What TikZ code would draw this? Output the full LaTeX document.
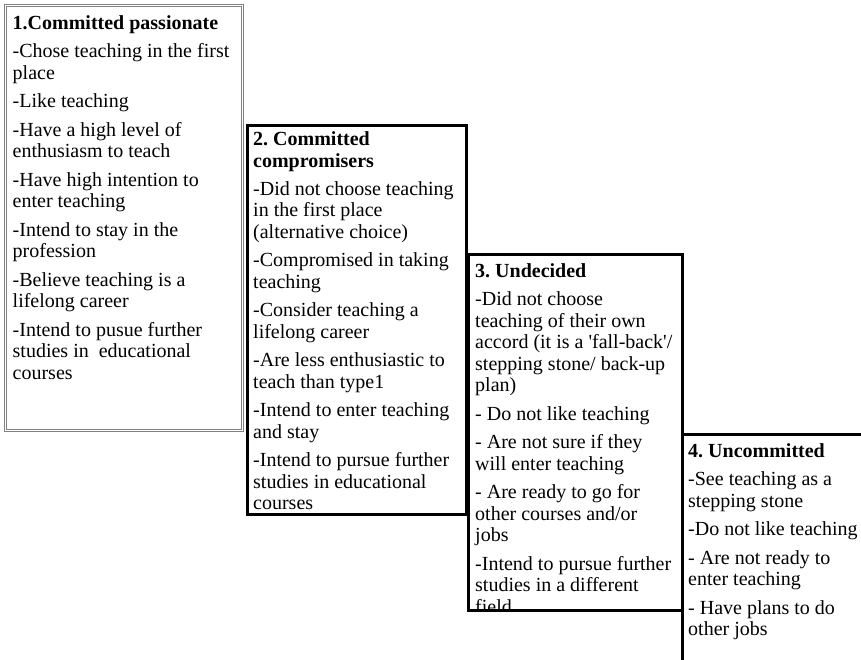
\documentclass[tikz,border=0pt]{standalone}
\usepackage{fontspec}
\setmainfont{Liberation Serif}
\usetikzlibrary{positioning}
\frenchspacing

\begin{document}
\begin{tikzpicture}[x=1pt, y=-1pt,
	panel/.style={rectangle, anchor=north west, inner sep=0pt},
	graypanel/.style={panel, draw=gray, double, double distance=1.4pt, line width=0.9pt},
	blackpanel/.style={panel, draw=black, line width=2.7pt},
	items/.style={anchor=north west, inner sep=0pt, align=left, font=\fontsize{20}{21.5}\selectfont}]
	\clip (0,0) rectangle (861,660);

	% the four types, as steps
	\node[graypanel, minimum width=237pt, minimum height=425pt] (box1) at (5,5) {};
	\node[blackpanel, minimum width=219pt, minimum height=389pt] (box2) at (246,124) {};
	\node[blackpanel, minimum width=214pt, minimum height=356pt] (box3) at (467,253) {};
	\node[blackpanel, minimum width=200pt, minimum height=240pt] (box4) at (681,433) {};

	\node[items, below right=10.5pt and 7.5pt of box1.north west] (type1) {\textbf{1.Committed passionate}\\[6.5pt]
		-Chose teaching in the first\\ place\\[7pt]
		-Like teaching\\[7pt]
		-Have a high level of\\ enthusiasm to teach\\[7pt]
		-Have high intention to\\ enter teaching\\[7pt]
		-Intend to stay in the\\ profession\\[7pt]
		-Believe teaching is a\\ lifelong career\\[7pt]
		-Intend to pusue further\\ studies in~ educational\\ courses};

	\node[items, below right=7.5pt and 7pt of box2.north west] (type2) {\textbf{2. Committed}\\ \textbf{compromisers}\\[6.5pt]
		-Did not choose teaching\\ in the first place\\ (alternative choice)\\[7pt]
		-Compromised in taking\\ teaching\\[7pt]
		-Consider teaching a\\ lifelong career\\[7pt]
		-Are less enthusiastic to\\ teach than type1\\[7pt]
		-Intend to enter teaching\\ and stay\\[7pt]
		-Intend to pursue further\\ studies in educational\\ courses};

	\begin{scope}
		\clip (box3.north west) rectangle ([yshift=1.35pt]box3.south east);
		\node[items, below right=10.5pt and 8pt of box3.north west] (type3) {\textbf{3. Undecided}\\[6.5pt]
			-Did not choose\\ teaching of their own\\ accord (it is a \textquotesingle fall-back\textquotesingle/\\ stepping stone/ back-up\\ plan)\\[7pt]
			- Do not like teaching\\[7pt]
			- Are not sure if they\\ will enter teaching\\[7pt]
			- Are ready to go for\\ other courses and/or\\ jobs\\[7pt]
			-Intend to pursue further\\ studies in a different\\ field};
	\end{scope}

	\node[items, below right=10.5pt and 7pt of box4.north west] (type4) {\textbf{4. Uncommitted}\\[6.5pt]
		-See teaching as a\\ stepping stone\\[7pt]
		-Do not like teaching\\[7pt]
		- Are not ready to\\ enter teaching\\[7pt]
		- Have plans to do\\ other jobs};
\end{tikzpicture}
\end{document}
